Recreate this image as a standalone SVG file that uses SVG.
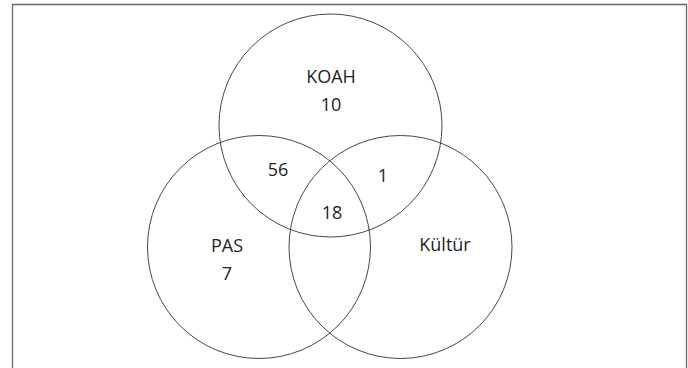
<svg xmlns="http://www.w3.org/2000/svg" width="688" height="368" viewBox="0 0 688 368">
<style>
.c{fill:none;stroke:#333;stroke-width:0.9}
.t{font-family:"Open Sans","Noto Sans",sans-serif;font-size:18px;fill:#231f20;text-anchor:middle}
</style>
<rect x="0" y="0" width="688" height="368" fill="#fff"/>
<path d="M12.5 368 V4.5 H686.5 V368" fill="none" stroke="#666" stroke-width="1.3"/>
<g id="koah"><circle class="c" cx="330.5" cy="125.5" r="111.5"/></g>
<g id="pas"><circle class="c" cx="259" cy="247" r="111.5"/></g>
<g id="kultur"><circle class="c" cx="400.5" cy="247" r="111.5"/></g>
<g id="labels">
<text class="t" x="331" y="83">KOAH</text>
<text class="t" x="331" y="111">10</text>
<text class="t" x="278" y="176">56</text>
<text class="t" x="383" y="182">1</text>
<text class="t" x="332" y="219">18</text>
<text class="t" x="227" y="252">PAS</text>
<text class="t" x="227" y="280">7</text>
<text class="t" x="445" y="251">Kültür</text>
</g>
</svg>
